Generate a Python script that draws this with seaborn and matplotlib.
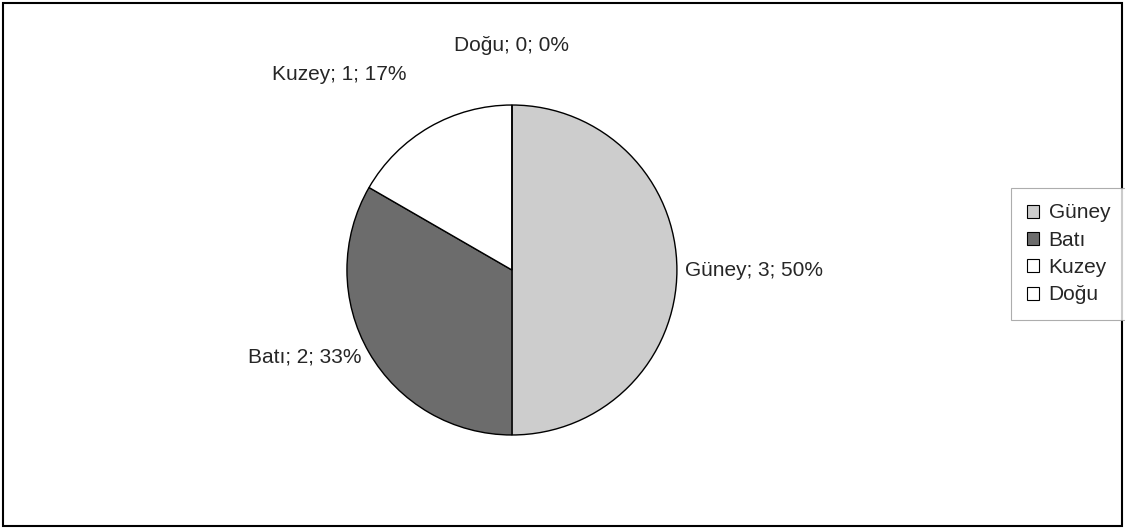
import matplotlib
matplotlib.use('Agg')
import matplotlib.pyplot as plt
import seaborn as sns
from matplotlib.patches import Rectangle, Patch

# yön verileri
categories = ['Güney', 'Batı', 'Kuzey', 'Doğu']
values = [3, 2, 1, 0]
percents = ['50%', '33%', '17%', '0%']
colors = ['#cdcdcd', '#6c6c6c', '#ffffff', '#ffffff']

sns.set_style('white')
plt.rcParams['font.family'] = ['Liberation Sans', 'DejaVu Sans']

fig = plt.figure(figsize=(11.25, 5.29), dpi=100)
ax = fig.add_axes([0.3084, 0.1777, 0.2933, 0.6238])

labels = [f'{c}; {v}; {p}' for c, v, p in zip(categories, values, percents)]
wedges, texts = ax.pie(values, labels=labels, colors=colors, startangle=90,
                       counterclock=False, labeldistance=1.05,
                       wedgeprops={'edgecolor': 'black', 'linewidth': 1.0},
                       textprops={'fontsize': 15})
# üstteki etiketler biraz daha dışarıda
for t in texts:
    x, y = t.get_position()
    if y > 0.5:
        t.set_position((x * 1.22, y * 1.24))
        t.set_va('bottom')
    if abs(x) < 0.05:
        t.set_ha('center')
ax.set_xlim(-1, 1)
ax.set_ylim(-1, 1)
ax.set_aspect('equal')
ax.axis('off')

handles = [Patch(facecolor=c, edgecolor='black', linewidth=0.8) for c in colors]
leg = fig.legend(handles, categories, loc='center left',
                 bbox_to_anchor=(1011 / 1125, 1 - 254 / 529), fontsize=15,
                 handlelength=0.6, handleheight=0.6, handletextpad=0.45,
                 labelspacing=0.4, frameon=True, fancybox=False,
                 borderpad=0.75, borderaxespad=0)
leg.get_frame().set_edgecolor('#999999')
leg.get_frame().set_linewidth(0.8)

fig.patches.append(Rectangle((3 / 1125, 3 / 529), 1119 / 1125, 523 / 529,
                             transform=fig.transFigure, fill=False,
                             edgecolor='black', linewidth=1.5))

fig.savefig('out.png', dpi=100)
